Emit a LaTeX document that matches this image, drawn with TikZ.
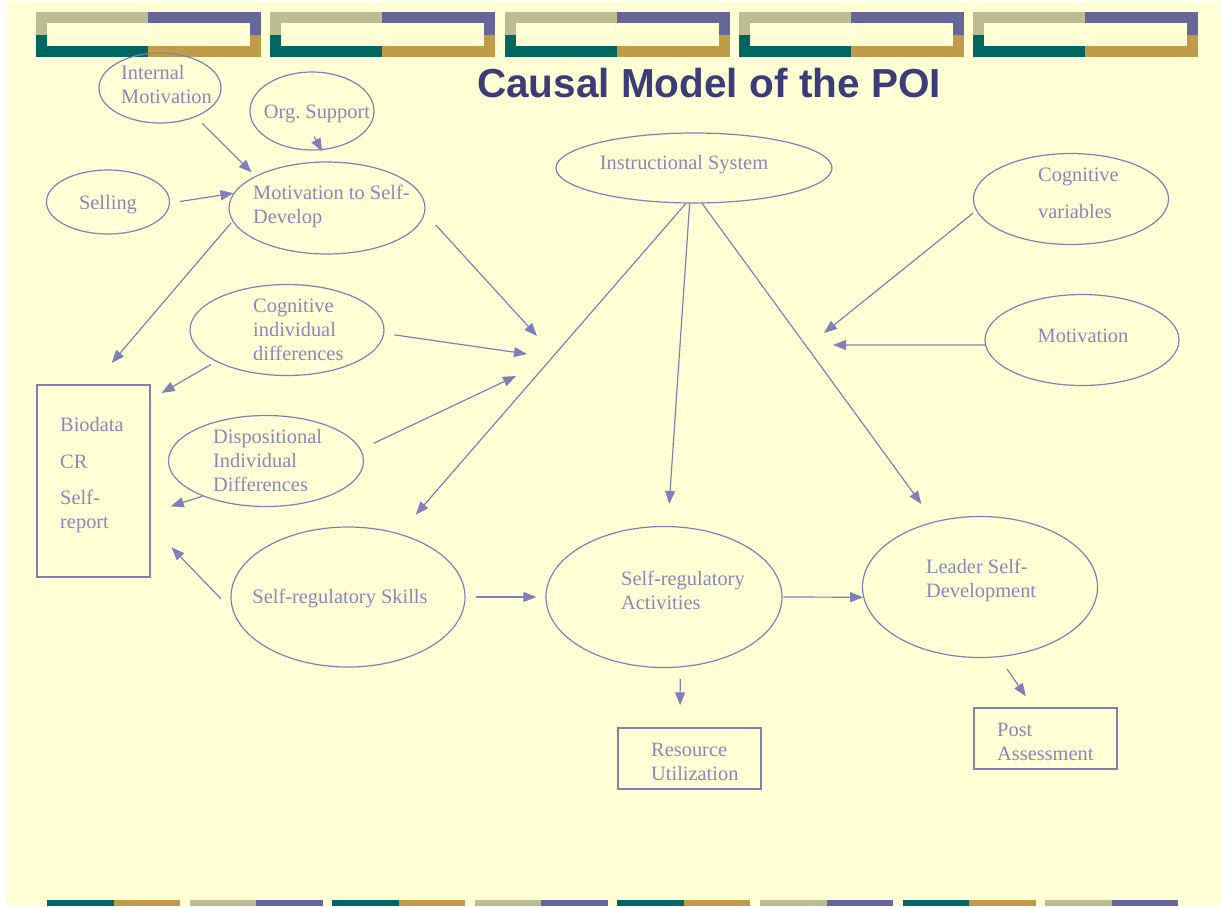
\documentclass[tikz,border=0pt]{standalone}
\usepackage{fontspec}
\setmainfont{Liberation Serif}
\newfontfamily\headfont{Liberation Sans}
\usetikzlibrary{positioning,arrows.meta,shapes.geometric}
\definecolor{paper}{RGB}{255,255,213}
\definecolor{barkhaki}{RGB}{187,189,147}
\definecolor{barpurple}{RGB}{102,102,153}
\definecolor{barteal}{RGB}{0,102,96}
\definecolor{bargold}{RGB}{192,155,72}
\definecolor{ink}{RGB}{128,128,184}
\definecolor{inktext}{RGB}{136,136,186}
\definecolor{headink}{RGB}{60,60,120}
\tikzset{
  oval/.style={ellipse,draw=ink,line width=1.2pt,inner sep=0pt},
  box/.style={rectangle,draw=ink,line width=1.4pt,inner sep=0pt},
  txt/.style={text=inktext,font=\fontsize{20.4pt}{24pt}\selectfont,align=left,inner sep=0pt,yshift=-2.5pt},
  arr/.style={draw=ink,line width=1.2pt,-{Triangle[length=13pt,width=10pt]}}
}

\begin{document}
\begin{tikzpicture}[x=1pt,y=-1pt]
\useasboundingbox (0,0) rectangle (1221,906);
% slide background
\fill[white] (0,0) rectangle (1221,906);
\fill[paper] (7,2) rectangle (1221,906);
% top frames
\foreach \i in {0,...,4}{
  \pgfmathsetmacro{\xa}{36+234.25*\i}
  \fill[barkhaki] (\xa,12) rectangle ++(112,22.5);
  \fill[barpurple] (\xa+112,12) rectangle ++(113,22.5);
  \fill[barteal] (\xa,34.5) rectangle ++(112,22.5);
  \fill[bargold] (\xa+112,34.5) rectangle ++(113,22.5);
  \fill[paper] (\xa+11,23) rectangle (\xa+214,46);
}
% bottom strip
\foreach \k in {0,2,4,6}{
  \pgfmathsetmacro{\xb}{47+142.6*\k}
  \fill[barteal] (\xb,900) rectangle ++(66.5,6);
  \fill[bargold] (\xb+66.5,900) rectangle ++(66.5,6);
}
\foreach \k in {1,3,5,7}{
  \pgfmathsetmacro{\xb}{47+142.6*\k}
  \fill[barkhaki] (\xb,900) rectangle ++(66.5,6);
  \fill[barpurple] (\xb+66.5,900) rectangle ++(66.5,6);
}
% title
\node[anchor=base,text=headink,font={\headfont\bfseries\fontsize{40.5pt}{48pt}\selectfont}] (title) at (709,97) {Causal Model of the POI};

% ovals
\node[oval,minimum width=122pt,minimum height=70pt] (im) at (160,88) {};
\node[oval,minimum width=124pt,minimum height=78pt] (org) at (312,111) {};
\node[oval,minimum width=123pt,minimum height=64pt] (sell) at (108,202) {};
\node[oval,minimum width=196pt,minimum height=92pt] (msd) at (327,208) {};
\node[oval,minimum width=276pt,minimum height=70pt] (isys) at (694,168) {};
\node[oval,minimum width=195pt,minimum height=91pt] (cogv) at (1071,199) {};
\node[oval,minimum width=194pt,minimum height=91pt] (mot) at (1082,340) {};
\node[oval,minimum width=194pt,minimum height=91pt] (cid) at (287,330) {};
\node[oval,minimum width=195pt,minimum height=91pt] (did) at (266,461) {};
\node[oval,minimum width=234pt,minimum height=140pt] (srs) at (348,597) {};
\node[oval,minimum width=236pt,minimum height=141pt] (sra) at (664,597) {};
\node[oval,minimum width=235pt,minimum height=141pt] (lsd) at (980,587) {};
% boxes
\node[box,minimum width=113pt,minimum height=192pt] (bio) at (93.5,481) {};
\node[box,minimum width=143pt,minimum height=61pt] (res) at (689.5,758.5) {};
\node[box,minimum width=143pt,minimum height=61pt] (post) at (1045.5,738.5) {};

% labels
\node[txt,anchor=west] (imtext) at (121,82) {Internal\\Motivation};
\node[txt] (orgtext) at (317,111) {Org.\ Support};
\node[txt] (selltext) at (108,202) {Selling};
\node[txt,anchor=west] (msdtext) at (253,204) {Motivation to Self-\\Develop};
\node[txt] (isystext) at (684,162) {Instructional System};
\node[txt,anchor=west] (cogvtext) at (1038,190.5) {Cognitive\\[13pt]variables};
\node[txt] (mottext) at (1083,333) {Motivation};
\node[txt,anchor=west] (cidtext) at (253,327.5) {Cognitive\\individual\\differences};
\node[txt,anchor=west] (didtext) at (213,458) {Dispositional\\Individual\\Differences};
\node[txt,anchor=west] (biotext) at (60,473) {Biodata\\[13pt]CR\\[12pt]Self-\\report};
\node[txt] (srstext) at (340,596) {Self-regulatory Skills};
\node[txt,anchor=west] (sratext) at (621,588) {Self-regulatory\\Activities};
\node[txt,anchor=west] (lsdtext) at (926,578) {Leader Self-\\Development};
\node[txt,anchor=west] (restext) at (651,759) {Resource\\Utilization};
\node[txt,anchor=west] (posttext) at (997,739.5) {Post\\Assessment};

% free ends of the converging arrows
\coordinate (tipmsd) at (537,336);
\coordinate (tipcid) at (527,354);
\coordinate (tipdid) at (516,376);
\coordinate (tipcv) at (824,333);
\coordinate (tipmot) at (833,345);

% arrows
\draw[arr,shorten <=9pt,shorten >=5pt] (im.-39) -- (msd.156);
\draw[arr] ([yshift=14pt]org.-87) -- ([yshift=10pt]msd.96);
\draw[arr,shorten <=10pt] (sell.-1) -- (msd.171);
\draw[arr,shorten <=2pt,shorten >=28pt] (msd.188) -- (bio.north);
\draw[arr,shorten <=16pt] (msd.-3) -- (tipmsd);
\draw[arr,shorten <=10pt] (cid.-2) -- (tipcid);
\draw[arr,shorten <=6pt,shorten >=12.7pt] (cid.204) -- (bio.55);
\draw[arr,shorten <=14pt] (did.7) -- (tipdid);
\draw[arr,shorten >=21pt] (did.209) -- (bio.-29);
\draw[arr,shorten <=17pt,shorten >=30pt] (srs.187) -- (bio.-38);
\draw[arr,shorten >=25pt] (isys.257) -- (srs.51);
\draw[arr,shorten >=22pt] (isys.263.5) -- (sra.87);
\draw[arr,shorten >=21.6pt] (isys.283) -- (lsd.125.7);
\draw[arr,shorten <=4pt] (cogv.187.4) -- (tipcv);
\draw[arr] (mot.183) -- (tipmot);
\draw[arr,shorten <=10pt,shorten >=9pt] (srs.east) -- (sra.west);
\draw[arr,shorten <=1pt] (sra.east) -- (lsd.185.4);
\draw[arr,shorten <=11.4pt,shorten >=22pt] (sra.-77) -- (res.107);
\draw[arr,shorten <=14.3pt,shorten >=13.4pt] (lsd.-75.5) -- (post.111);
\end{tikzpicture}
\end{document}
